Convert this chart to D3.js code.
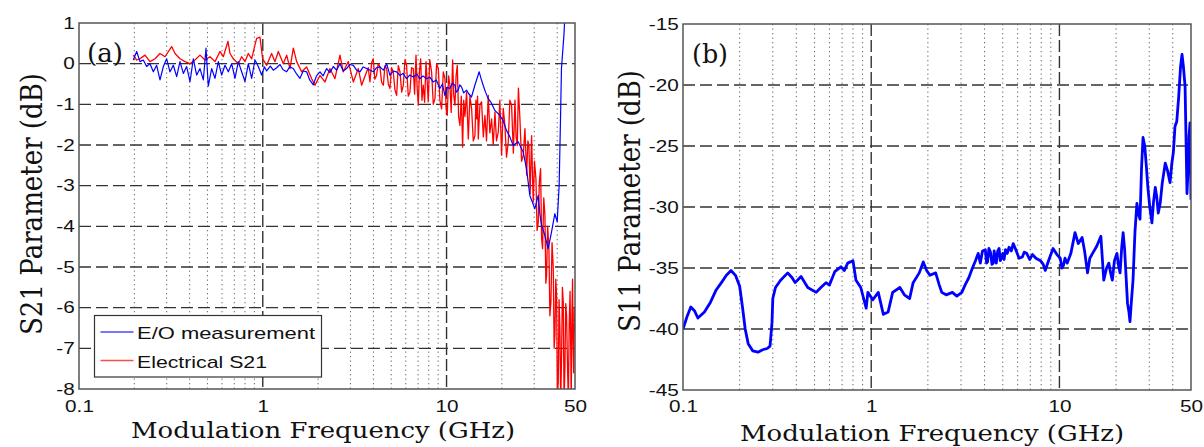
<!DOCTYPE html>
<html>
<head>
<meta charset="utf-8">
<script src="https://cdn.jsdelivr.net/npm/d3@7"></script>
<style>
  body { margin: 0; background: #fff; }
  svg { display: block; }
</style>
</head>
<body>
<svg width="1204" height="447"></svg>
<script>
var svg = d3.select("svg");

// tick values
var freqTicks = [0.1, 1, 10, 50];
var majorFreqs = [1, 10];
var minorFreqs = [0.2, 0.3, 0.4, 0.5, 0.6, 0.7, 0.8, 0.9, 2, 3, 4, 5, 6, 7, 8, 9, 20, 30, 40];
var s21Ticks = [1, 0, -1, -2, -3, -4, -5, -6, -7, -8];
var s11Ticks = [-15, -20, -25, -30, -35, -40, -45];

// (a) E/O measurement, [GHz, dB]
var eoData = [
  [0.1975,0.09],[0.206,0.3],[0.2147,0.05],[0.2239,0.09],[0.2334,-0.07],[0.2434,0],[0.2538,-0.2],
  [0.2646,-0.04],[0.2759,-0.4],[0.2877,-0.07],[0.2999,0.12],[0.3127,-0.2],[0.326,-0.04],[0.34,-0.32],
  [0.3545,0.05],[0.3696,-0.24],[0.3853,-0.07],[0.4018,-0.44],[0.4189,0.12],[0.4368,-0.28],[0.4554,-0.12],
  [0.4748,-0.4],[0.491,0.38],[0.5053,-0.55],[0.5269,-0.12],[0.5495,-0.36],[0.573,0.05],[0.5974,-0.28],
  [0.6229,-0.04],[0.6494,-0.2],[0.6771,0],[0.706,-0.36],[0.7361,0.05],[0.7674,-0.2],[0.8002,-0.44],
  [0.8343,0],[0.8699,-0.36],[0.907,0.09],[0.9456,-0.07],[0.9859,-0.28],[1.02,-0.08],[1.05,-0.18],
  [1.1,-0.06],[1.141,-0.16],[1.19,-0.1],[1.241,-0.02],[1.29,-0.15],[1.349,-0.2],[1.4,-0.08],[1.466,-0.12],
  [1.53,-0.26],[1.594,-0.36],[1.66,-0.18],[1.733,-0.2],[1.8,-0.4],[1.884,-0.52],[1.96,-0.3],[2.047,-0.2],
  [2.13,-0.3],[2.226,-0.12],[2.32,-0.22],[2.42,-0.07],[2.52,-0.16],[2.63,0],[2.74,-0.18],[2.859,-0.12],
  [2.98,-0.02],[3.109,-0.04],[3.24,-0.16],[3.379,-0.2],[3.52,-0.08],[3.674,-0.12],
  [3.99,-0.2],[4.16,-0.1],[4.34,-0.08],[4.53,-0.16],[4.72,0],[4.92,-0.29],[5.13,-0.18],[5.35,-0.2],
  [5.57,-0.29],[5.8,-0.24],[6.06,-0.37],[6.3,-0.28],[6.59,-0.33],[6.9,-0.26],[7.16,-0.37],[7.45,-0.3],
  [7.78,-0.37],[8.1,-0.33],[8.46,-0.45],[8.8,-0.4],[9.19,-0.61],[9.5,-0.5],[9.79,-0.78],[10.1,-0.58],
  [10.42,-0.61],[10.75,-0.48],[11.1,-0.53],[11.3,-0.7],[11.57,-0.65],[11.8,-0.52],[12.06,-0.57],
  [12.4,-0.72],[12.84,-0.65],[13.2,-0.74],[13.67,-0.82],[14.26,-0.53],[15.05,-0.2],[15.4,-0.36],
  [15.82,-0.53],[16.3,-0.7],[16.85,-0.86],[17.5,-0.96],[18.32,-1.15],[19.5,-1.27],[20.3,-1.4],
  [21.2,-1.64],[22.1,-1.8],[23.04,-2.01],[24.53,-1.92],[26.12,-2.17],[27.23,-2.58],[28.39,-3.24],
  [29.3,-3.4],[30.23,-3.57],[31.52,-3.24],[32.2,-3.7],[32.87,-3.97],[34.26,-4.22],[35.73,-4.55],
  [37.25,-4.14],[38.84,-3.69],[40.0,-3.89],[41.0,-2.99],[41.7,-1.35],[42.2,-0.12],[43.5,0.69],
  [44.1,1.2],[44.5,1.6]
];

// (a) Electrical S21, [GHz, dB]
var s21Data = [
  [0.1975,0.21],[0.206,0.09],[0.2147,0.12],[0.2286,0.21],[0.2434,0.05],[0.2592,0.12],[0.2759,0.25],
  [0.2937,0.17],[0.3193,0.42],[0.333,0.25],[0.3545,0.12],[0.3774,0.05],[0.4018,0],[0.4277,0.09],
  [0.4554,0.21],[0.4849,0.09],[0.5161,0.17],[0.5495,0.05],[0.5849,0.3],[0.61,0.17],[0.6467,0.55],
  [0.6631,0.25],[0.6915,0.12],[0.7361,0],[0.7674,0.17],[0.8002,0.05],[0.8343,0.25],[0.8699,0.12],
  [0.907,0.46],[0.9261,0.62],[0.9656,0.65],[0.9984,0.12],[1.05,-0.04],[1.117,0.25],[1.165,0.05],
  [1.215,0.3],[1.293,0],[1.349,0.21],[1.406,-0.12],[1.466,0.38],[1.529,0.05],[1.627,-0.2],[1.733,-0.08],
  [1.845,-0.37],[1.924,-0.53],[2.047,-0.29],[2.18,-0.45],[2.32,-0.12],[2.47,-0.37],[2.63,0.21],
  [2.742,-0.2],[2.92,0.05],[3.109,-0.45],[3.31,-0.12],[3.45,-0.53],[3.674,-0.2],
  [3.75,-0.1],[3.83,-0.45],[3.91,0.02],[3.99,0.12],[4.07,-0.38],[4.16,-0.29],[4.25,0.0],[4.34,-0.08],
  [4.43,-0.45],[4.53,-0.53],[4.62,-0.05],[4.72,-0.12],[4.82,-0.5],[4.92,-0.61],[5.02,-0.1],[5.13,-0.2],
  [5.24,-0.65],[5.35,-0.78],[5.46,-0.05],[5.58,-0.2],[5.7,-0.7],[5.82,-0.53],[5.94,0.1],[6.06,-0.04],
  [6.19,-0.8],[6.32,-0.7],[6.45,-0.1],[6.59,-0.12],[6.7,-0.75],[6.82,0.21],[6.92,-0.6],[7.02,-1.02],
  [7.12,-0.2],[7.23,0.12],[7.35,-0.9],[7.47,-0.53],[7.6,-0.95],[7.73,0.05],[7.84,-0.4],[7.95,-0.94],
  [8.1,0.1],[8.29,-0.2],[8.47,-1.0],[8.65,-0.86],[8.83,0.0],[9.02,-0.12],[9.2,-0.9],[9.4,-1.11],
  [9.6,-0.2],[9.8,-0.37],[9.95,-1.1],[10.09,-1.27],[10.26,-0.3],[10.43,-0.53],[10.6,-1.2],[10.79,0.09],
  [10.95,-0.8],[11.11,-1.02],[11.27,-0.3],[11.44,-0.04],[11.63,-1.3],[11.83,-1.52],[12.03,-0.8],
  [12.23,-2.05],[12.4,-0.9],[12.59,-1.3],[12.85,-0.7],[13.13,-1.85],[13.4,-0.8],[13.69,-1.11],
  [13.98,-1.9],[14.27,-1.77],[14.45,-0.9],[14.6,-1.36],[14.75,-0.8],[14.88,-1.85],[15.2,-1.0],
  [15.51,-0.94],[15.85,-1.8],[16.18,-1.27],[16.5,-1.9],[16.87,-0.78],[17.2,-1.7],[17.59,-1.36],
  [17.95,-2.0],[18.34,-1.19],[18.7,-1.9],[19.12,-1.68],[19.5,-0.9],[19.93,-2.25],[20.35,-1.1],
  [20.78,-1.52],[21.2,-2.3],[21.67,-1.92],[22.1,-0.9],[22.59,-1.02],[23.1,-2.2],[23.56,-0.9],
  [23.9,-1.8],[24.26,-2.01],[24.6,-0.6],[25.08,-1.36],[25.6,-2.4],[26.15,-2.25],[26.7,-1.6],
  [27.27,-2.74],[27.7,-1.9],[28.07,-2.01],[28.5,-3.2],[29.03,-1.77],[29.3,-2.6],[29.64,-3.4],
  [30.1,-2.4],[30.65,-2.83],[31.1,-4.1],[31.56,-3.89],[32.0,-2.9],[32.49,-2.58],[32.9,-4.3],
  [33.31,-4.55],[33.8,-3.3],[34.3,-3.73],[34.7,-5.4],[35.03,-5.2],[35.5,-4.0],[36.07,-4.55],
  [36.5,-6.2],[36.98,-5.86],[37.5,-4.4],[38.08,-5.04],[38.5,-7.0],[38.88,-6.68],[39.3,-5.3],
  [39.7,-5.7],[40.1,-8.2],[40.54,-7.83],[40.95,-5.8],[41.39,-6.52],[41.8,-8.3],[42.27,-7.17],
  [42.7,-5.5],[43.16,-5.86],[43.6,-8.3],[44.06,-7.5],[44.5,-5.9],[45.0,-6.2],[45.5,-7.4],[46,-8.3],
  [46.5,-6.4],[47,-5.6],[47.4,-7.0],[47.7,-8.3],[48.1,-6.2],[48.5,-5.3],[48.8,-6.8],[49.2,-7.6],
  [49.6,-6.0],[50,-6.6]
];

// (b) S11, [GHz, dB]
var s11Data = [
  [0.1,-40],[0.105,-39],[0.11,-38.2],[0.115,-38.5],[0.12,-39.1],[0.13,-38.6],[0.14,-37.8],[0.15,-36.8],
  [0.16,-36.2],[0.17,-35.6],[0.18,-35.2],[0.19,-35.6],[0.2,-36.5],[0.207,-38.2],[0.214,-40],[0.222,-41.2],
  [0.235,-41.8],[0.25,-41.9],[0.265,-41.7],[0.28,-41.6],[0.29,-41.4],[0.297,-39.5],[0.3,-37.5],
  [0.31,-36.6],[0.33,-36],[0.36,-35.4],[0.38,-35.8],[0.394,-36.2],[0.424,-35.7],[0.46,-36.6],
  [0.51,-37],[0.54,-36.6],[0.575,-36.2],[0.6,-36.4],[0.64,-35.3],[0.69,-34.9],[0.72,-35.2],[0.75,-34.6],
  [0.8,-34.4],[0.83,-36],[0.88,-36.6],[0.94,-38.3],[0.96,-37],[1.02,-37.6],[1.09,-37],[1.16,-38.8],
  [1.23,-38.6],[1.3,-37],[1.42,-36.6],[1.5,-37.2],[1.6,-37.5],[1.67,-36.2],[1.8,-35.4],[1.89,-34.5],
  [1.97,-35.2],[2.05,-35.6],[2.2,-35.4],[2.3,-36.4],[2.37,-37],[2.5,-37.2],[2.7,-37],[2.85,-37.3],
  [3.03,-37],[3.15,-36.4],[3.3,-35.8],[3.45,-35],[3.58,-34.4],[3.7,-33.8],[3.8,-34.6],[3.9,-33.6],
  [4.04,-33.5],[4.1,-34.6],[4.15,-34.5],[4.22,-33.4],[4.3,-33.7],[4.38,-34.7],[4.45,-34.6],
  [4.5,-33.6],[4.55,-34.1],[4.62,-34.6],[4.7,-33.6],[4.78,-33.4],[4.85,-34.4],[4.92,-34.2],[5.0,-33.8],
  [5.08,-34.3],[5.17,-33.5],[5.28,-33.8],[5.4,-33.3],[5.55,-33.6],[5.68,-33],[5.9,-33.6],[6.1,-34.2],
  [6.35,-34.1],[6.5,-33.7],[6.7,-33.8],[6.95,-34.3],[7.19,-33.9],[7.5,-34.2],[7.93,-34.4],[8.2,-34.7],
  [8.4,-35.2],[8.8,-34.3],[9.25,-33.4],[9.7,-33.9],[10.1,-34.2],[10.3,-35],[10.5,-34.8],[10.7,-34.2],
  [11.0,-34.6],[11.5,-33.8],[12.1,-32.1],[12.6,-33],[13.2,-32.5],[13.6,-33.6],[14.1,-35.4],
  [14.5,-34.2],[15,-33.8],[15.8,-33.2],[16.6,-32.4],[17.2,-36],[17.8,-35],[18.3,-34.6],[18.7,-35.4],
  [19.1,-36],[19.6,-34.4],[20.2,-33.8],[20.6,-34.8],[21,-35.4],[21.4,-33.4],[21.8,-32.1],[22.2,-33.5],
  [23,-37.9],[23.4,-38.6],[23.7,-39.4],[24.1,-37.8],[24.6,-36],[25.2,-32],[25.8,-29.7],[26.3,-30.6],
  [26.8,-31],[27.3,-26.8],[27.8,-24.3],[28.4,-25],[29,-26.8],[29.5,-28.4],[30.2,-30],[31,-31.3],
  [31.6,-29.6],[32.3,-28.4],[32.9,-29.2],[33.5,-30.5],[34.3,-29.7],[35.2,-28],[36.5,-26.4],[37.5,-27],
  [38.7,-28],[39.5,-26.5],[40.3,-25.5],[41.1,-23.4],[42,-23],[43,-21],[44,-18.5],[44.8,-17.5],
  [45.5,-18.4],[46.5,-20.1],[47,-24],[47.6,-28.9],[48.2,-27],[48.8,-24.2],[49.4,-23.1],[50,-29.4]
];

var serif = "'DejaVu Serif', serif";
var sans = "'Liberation Sans', Arial, sans-serif";

//////////// PANEL ////////////

function drawPanel(opt) {
  var x = d3.scaleLog().domain([0.1, 50]).range([opt.x0, opt.x1]);
  var y = d3.scaleLinear().domain(opt.yDomain).range([opt.y1, opt.y0]);
  var g = svg.append("g");

  var clipId = "clip-" + opt.id;
  svg.append("defs").append("clipPath").attr("id", clipId)
    .append("rect")
    .attr("x", opt.x0).attr("y", opt.y0)
    .attr("width", opt.x1 - opt.x0).attr("height", opt.y1 - opt.y0);

  // minor dotted grid
  g.selectAll(".minor").data(minorFreqs).enter().append("line")
    .attr("x1", d => x(d)).attr("x2", d => x(d))
    .attr("y1", opt.y0).attr("y2", opt.y1)
    .attr("stroke", "#666").attr("stroke-width", 1)
    .attr("stroke-dasharray", "1.3,3.2");

  // major dashed grid
  g.selectAll(".major").data(majorFreqs).enter().append("line")
    .attr("x1", d => x(d)).attr("x2", d => x(d))
    .attr("y1", opt.y0).attr("y2", opt.y1)
    .attr("stroke", "#333").attr("stroke-width", 1.4)
    .attr("stroke-dasharray", "12,4");

  g.selectAll(".hgrid").data(opt.yTicks.slice(1, -1)).enter().append("line")
    .attr("x1", opt.x0).attr("x2", opt.x1)
    .attr("y1", d => y(d)).attr("y2", d => y(d))
    .attr("stroke", "#333").attr("stroke-width", 1.4)
    .attr("stroke-dasharray", "12,5");

  // data lines
  var line = d3.line().x(d => x(d[0])).y(d => y(d[1]));
  var lines = g.append("g").attr("clip-path", "url(#" + clipId + ")");
  opt.series.forEach(function(s) {
    lines.append("path")
      .datum(s.data)
      .attr("d", line)
      .attr("fill", "none")
      .attr("stroke", s.color)
      .attr("stroke-width", s.width)
      .attr("stroke-linejoin", "round");
  });

  // frame
  g.append("rect")
    .attr("x", opt.x0).attr("y", opt.y0)
    .attr("width", opt.x1 - opt.x0).attr("height", opt.y1 - opt.y0)
    .attr("fill", "none").attr("stroke", "#555").attr("stroke-width", 1.5);

  // axes
  var xAxis = g.append("g")
    .attr("transform", "translate(0," + opt.y1 + ")")
    .call(d3.axisBottom(x).tickValues(freqTicks).tickFormat(d => String(d))
      .tickSize(0).tickPadding(opt.xPad));
  var yAxis = g.append("g")
    .attr("transform", "translate(" + opt.x0 + ",0)")
    .call(d3.axisLeft(y).tickValues(opt.yTicks).tickFormat(d => String(d))
      .tickSize(0).tickPadding(3.5));
  [xAxis, yAxis].forEach(function(a) {
    a.select(".domain").remove();
    a.selectAll("text")
      .attr("font-family", sans).attr("font-size", 17).attr("fill", "#111")
      .attr("transform", "scale(1.22,1)");
  });
  yAxis.selectAll("text").attr("dy", "0.3em");

  // axis titles
  g.append("text")
    .attr("x", opt.xLabelX).attr("y", opt.xLabelY)
    .attr("text-anchor", "middle")
    .attr("font-family", serif).attr("font-size", 23).attr("fill", "#111")
    .attr("textLength", 384).attr("lengthAdjust", "spacingAndGlyphs")
    .text("Modulation Frequency (GHz)");

  g.append("text")
    .attr("transform", "translate(" + opt.yLabelX + "," + opt.yLabelY + ") scale(1.3,1) rotate(-90)")
    .attr("text-anchor", "middle")
    .attr("font-family", serif).attr("font-size", 23).attr("fill", "#111")
    .attr("textLength", 262).attr("lengthAdjust", "spacingAndGlyphs")
    .text(opt.yTitle);

  // panel tag
  g.append("text")
    .attr("x", opt.tagX).attr("y", opt.tagY)
    .attr("font-family", serif).attr("font-size", 26).attr("fill", "#111")
    .attr("textLength", 36).attr("lengthAdjust", "spacingAndGlyphs")
    .text(opt.tag);

  return g;
}

var left = drawPanel({
  id: "a", x0: 79, x1: 575, y0: 23, y1: 389,
  yDomain: [-8, 1], yTicks: s21Ticks, xPad: 11,
  series: [
    { data: s21Data, color: "#ff0000", width: 1.3 },
    { data: eoData, color: "#0000ff", width: 1.2 }
  ],
  xLabelX: 323, xLabelY: 438,
  yLabelX: 41.5, yLabelY: 204, yTitle: "S21 Parameter (dB)",
  tag: "(a)", tagX: 87, tagY: 62
});

drawPanel({
  id: "b", x0: 683, x1: 1191, y0: 24, y1: 390,
  yDomain: [-45, -15], yTicks: s11Ticks, xPad: 10,
  series: [
    { data: s11Data, color: "#0000ff", width: 2.8 }
  ],
  xLabelX: 932, xLabelY: 441,
  yLabelX: 640, yLabelY: 201, yTitle: "S11 Parameter (dB)",
  tag: "(b)", tagX: 692, tagY: 63
});

//////////// LEGEND ////////////

var legendItems = [
  { label: "E/O measurement", color: "#0000ff", len: 178 },
  { label: "Electrical S21", color: "#ff0000", len: 130 }
];

var legend = left.append("g").attr("transform", "translate(94.5,315.5)");
legend.append("rect")
  .attr("width", 227).attr("height", 61.5)
  .attr("fill", "#fff").attr("stroke", "#333").attr("stroke-width", 1.2);

legendItems.forEach(function(item, i) {
  var row = legend.append("g").attr("transform", "translate(0," + (16.5 + i * 28.5) + ")");
  row.append("line")
    .attr("x1", 6).attr("x2", 39)
    .attr("stroke", item.color).attr("stroke-width", 1.3).attr("opacity", 0.7);
  row.append("text")
    .attr("x", 42.5).attr("y", 7)
    .attr("font-family", sans).attr("font-size", 17).attr("fill", "#111")
    .attr("textLength", item.len).attr("lengthAdjust", "spacingAndGlyphs")
    .text(item.label);
});
</script>
</body>
</html>
